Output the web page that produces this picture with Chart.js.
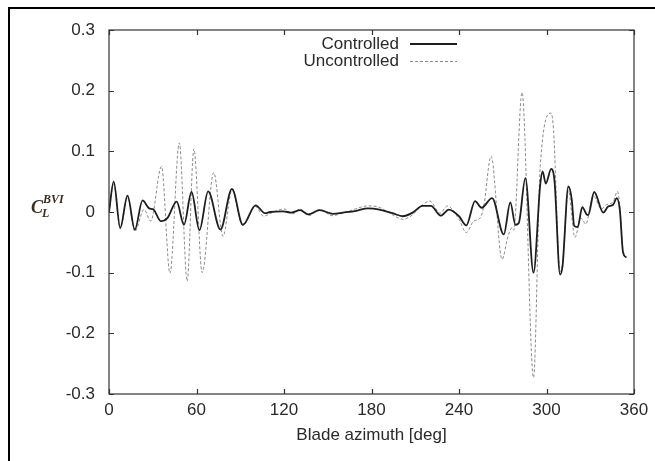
<!DOCTYPE html>
<html>
<head>
<meta charset="utf-8">
<script src="https://cdn.jsdelivr.net/npm/chart.js@4.4.0/dist/chart.umd.min.js"></script>
<style>
  html, body { margin: 0; padding: 0; background: #fff; }
  #wrap { width: 655px; height: 461px; position: relative; }
</style>
</head>
<body>
<div id="wrap"><canvas id="bvi_chart"></canvas></div>
<script>
// blade azimuth [deg] / C_L^BVI
const azimuth_ctrl = [0, 3.2, 7.7, 12.7, 17.7, 23, 27.5, 30.5, 35.5, 40, 46.4, 51.4, 56.6, 62, 68, 76.4, 84.3, 91.8,
  100.5, 107, 110.5, 119.5, 125, 131, 136.6, 144.5, 153.6, 160.4, 169.5, 177.5, 185.5, 194.5, 201.4, 208.2, 215,
  220.7, 227.5, 233, 240, 245, 251, 255.5, 262.7, 270.7, 275.2, 278.7, 281, 285.5, 291.1, 295.7, 297.3, 299.5,
  303.2, 305.5, 309.3, 311, 315, 317.3, 319, 321.4, 324.5, 327.5, 328.6, 332.7, 338.9, 342.3, 345.7, 348.2, 350.3,
  352.5, 354.8];
const cl_ctrl = [0, 0.05, -0.026, 0.027, -0.029, 0.019, 0.006, 0.004, -0.015, -0.01, 0.017, -0.021, 0.033, -0.03,
  0.034, -0.029, 0.038, -0.021, 0.011, -0.002, 0, 0.001, -0.001, 0.003, -0.004, 0.003, -0.003, -0.001, 0.002,
  0.006, 0.004, -0.002, -0.007, -0.001, 0.01, 0.01, -0.006, 0.004, -0.007, -0.022, 0.018, 0.007, 0.023, -0.037,
  0.016, -0.021, -0.018, 0.056, -0.1, 0.045, 0.067, 0.047, 0.071, 0.051, -0.103, -0.089, 0.042, 0.021, -0.023,
  -0.025, 0.008, -0.004, -0.005, 0.033, -0.001, 0.009, 0.012, 0.023, 0.003, -0.067, -0.075];

const azimuth_unctrl = [0, 3.2, 7.7, 12.7, 17.7, 24, 28.6, 36, 41.8, 48.2, 53.6, 58.2, 63.9, 71.8, 78.2, 84.3, 91.8,
  100.5, 106, 111, 120, 126, 131, 137, 144.5, 153, 160, 169, 177, 185, 194, 201.4, 208, 215, 220, 227, 232, 240,
  245, 250, 254.5, 257, 262, 269.5, 273.6, 276.4, 277.5, 283.2, 291.1, 295.7, 303.2, 304.8, 309.3, 311, 315,
  319.5, 323.6, 327, 332, 337.7, 341, 345.7, 348.6, 350.3, 352.5, 354.8];
const cl_unctrl = [0, 0.048, -0.028, 0.024, -0.032, 0.004, -0.015, 0.075, -0.101, 0.114, -0.114, 0.104, -0.1,
  0.065, -0.04, 0.036, -0.022, 0.009, -0.007, -0.002, 0.005, -0.003, 0.005, -0.006, 0.004, -0.006, -0.002, 0.005,
  0.01, 0.008, -0.004, -0.012, -0.005, 0.012, 0.018, -0.002, 0.01, -0.012, -0.034, -0.015, -0.01, 0.01, 0.092,
  -0.078, -0.04, -0.026, -0.03, 0.197, -0.273, 0.075, 0.163, 0.136, -0.098, -0.085, 0.035, -0.042, -0.01, -0.02,
  0.027, 0.005, 0.012, 0.017, 0.034, 0.01, -0.064, -0.07];

const series_labels = ["Controlled", "Uncontrolled"];
const x_ticks = [0, 60, 120, 180, 240, 300, 360];
const y_ticks = [-0.3, -0.2, -0.1, 0, 0.1, 0.2, 0.3];

function to_points(xs, ys) {
  return xs.map((x, i) => ({ x: x, y: ys[i] }));
}

const ink = "#2a2a2a";
const font_main = "'Liberation Sans', Arial, sans-serif";

// gnuplot-like box, inward ticks, legend, y label and page frame
const frame_plugin = {
  id: "frame",
  beforeDraw(chart) {
    const ctx = chart.ctx;
    ctx.save();
    ctx.fillStyle = "#fff";
    ctx.fillRect(0, 0, chart.width, chart.height);
    ctx.restore();
  },
  afterDraw(chart) {
    const ctx = chart.ctx;
    const a = chart.chartArea;
    const xs = chart.scales.x;
    const ys = chart.scales.y;
    ctx.save();

    // page frame (top + left)
    ctx.fillStyle = "#000";
    ctx.fillRect(8, 7, chart.width - 8, 2);
    ctx.fillRect(8, 7, 2, chart.height - 7);

    // plot box
    ctx.strokeStyle = "#333";
    ctx.lineWidth = 1.2;
    ctx.strokeRect(a.left, a.top, a.right - a.left, a.bottom - a.top);

    // inward ticks on all sides
    const tl = 5;
    ctx.beginPath();
    x_ticks.forEach((v) => {
      const px = Math.round(xs.getPixelForValue(v)) + 0.5;
      ctx.moveTo(px, a.bottom); ctx.lineTo(px, a.bottom - tl);
      ctx.moveTo(px, a.top); ctx.lineTo(px, a.top + tl);
    });
    y_ticks.forEach((v) => {
      const py = Math.round(ys.getPixelForValue(v)) + 0.5;
      ctx.moveTo(a.left, py); ctx.lineTo(a.left + tl, py);
      ctx.moveTo(a.right, py); ctx.lineTo(a.right - tl, py);
    });
    ctx.stroke();

    // legend (text right aligned, sample on the right)
    ctx.font = "17px " + font_main;
    ctx.textAlign = "right";
    ctx.textBaseline = "middle";
    chart.data.datasets.forEach((ds, i) => {
      const y = 44 + i * 17.5;
      ctx.fillStyle = ink;
      ctx.fillText(ds.label, 399, y);
      ctx.strokeStyle = ds.borderColor;
      ctx.lineWidth = ds.borderWidth;
      ctx.setLineDash(ds.borderDash || []);
      ctx.beginPath();
      ctx.moveTo(410, y);
      ctx.lineTo(457, y);
      ctx.stroke();
    });
    ctx.setLineDash([]);

    // y axis label C_L^BVI
    const y0 = ys.getPixelForValue(0);
    ctx.fillStyle = "#3b2f22";
    ctx.textAlign = "left";
    ctx.textBaseline = "alphabetic";
    ctx.font = "italic bold 18px 'Liberation Serif', serif";
    ctx.fillText("C", 31, y0 + 1);
    ctx.font = "italic bold 12px 'Liberation Serif', serif";
    ctx.fillText("BVI", 43, y0 - 9);
    ctx.fillText("L", 42, y0 + 5);

    ctx.restore();
  },
};

const chart_ctx = document.getElementById("bvi_chart");

const bvi_chart = new Chart(chart_ctx, {
  type: "line",
  data: {
    datasets: [
      {
        label: series_labels[0],
        data: to_points(azimuth_ctrl, cl_ctrl),
        borderColor: "#1e1e1e",
        borderWidth: 1.8,
        pointRadius: 0,
        cubicInterpolationMode: "monotone",
        order: 0,
      },
      {
        label: series_labels[1],
        data: to_points(azimuth_unctrl, cl_unctrl),
        borderColor: "#8c8c8c",
        borderWidth: 1,
        borderDash: [3, 2],
        pointRadius: 0,
        cubicInterpolationMode: "monotone",
        order: 1,
      },
    ],
  },
  options: {
    responsive: true,
    maintainAspectRatio: false,
    animation: false,
    layout: { padding: { left: 0, right: 21, top: 30, bottom: 0 } },
    plugins: {
      legend: { display: false },
      tooltip: { enabled: false },
    },
    scales: {
      x: {
        type: "linear",
        min: 0,
        max: 360,
        grid: { display: false, drawTicks: false },
        border: { display: false },
        afterBuildTicks: (s) => { s.ticks = x_ticks.map((v) => ({ value: v })); },
        afterFit: (s) => { s.height = 67; },
        ticks: {
          padding: 6,
          color: ink,
          maxRotation: 0,
          font: { family: font_main, size: 17 },
        },
        title: {
          display: true,
          text: "Blade azimuth [deg]",
          color: ink,
          font: { family: font_main, size: 17 },
          padding: { top: 0, bottom: 15 },
        },
      },
      y: {
        min: -0.3,
        max: 0.3,
        grid: { display: false, drawTicks: false },
        border: { display: false },
        afterBuildTicks: (s) => { s.ticks = y_ticks.map((v) => ({ value: v })); },
        afterFit: (s) => { s.width = 109; },
        ticks: {
          padding: 14,
          color: ink,
          font: { family: font_main, size: 17 },
          callback: (v) => (v === 0 ? "0" : String(Math.round(v * 10) / 10)),
        },
      },
    },
  },
  plugins: [frame_plugin],
});
</script>
</body>
</html>
